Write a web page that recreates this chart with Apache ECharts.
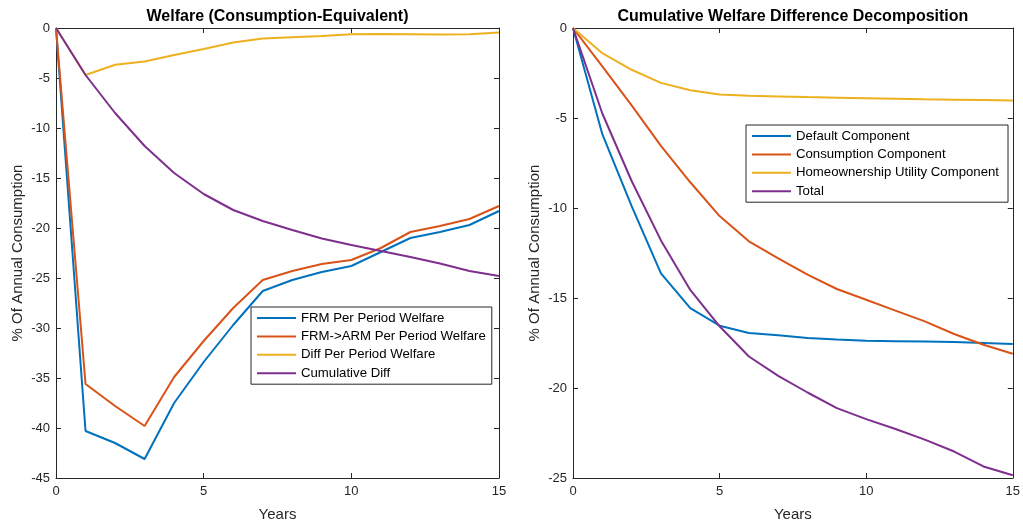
<!DOCTYPE html>
<html><head><meta charset="utf-8">
<script src="https://cdn.jsdelivr.net/npm/echarts@6/dist/echarts.min.js"></script>
<style>html,body{margin:0;padding:0;background:#fff}#c{width:1023px;height:527px}</style>
</head><body><div id="c"></div>
<script>
const years = [0,1,2,3,4,5,6,7,8,9,10,11,12,13,14,15];
const xTicks = [0,5,10,15];
// Left panel
const frmWelfare = [0,-40.3,-41.5,-43.1,-37.5,-33.4,-29.7,-26.3,-25.2,-24.4,-23.8,-22.4,-21.0,-20.4,-19.7,-18.3];
const frmArmWelfare = [0,-35.6,-37.8,-39.8,-34.9,-31.3,-28.0,-25.2,-24.3,-23.6,-23.2,-22.0,-20.4,-19.8,-19.1,-17.8];
const diffWelfare = [0,-4.7,-3.67,-3.35,-2.7,-2.1,-1.46,-1.05,-0.93,-0.8,-0.63,-0.6,-0.62,-0.66,-0.63,-0.46];
const cumulativeDiff = [0,-4.7,-8.5,-11.8,-14.5,-16.6,-18.2,-19.3,-20.2,-21.05,-21.7,-22.3,-22.9,-23.55,-24.3,-24.8];
// Right panel
const defaultComp = [0,-5.9,-9.9,-13.63,-15.56,-16.54,-16.94,-17.07,-17.22,-17.31,-17.38,-17.4,-17.42,-17.45,-17.5,-17.55];
const consumptionComp = [0,-2.13,-4.3,-6.55,-8.57,-10.45,-11.85,-12.8,-13.7,-14.5,-15.1,-15.7,-16.3,-17.0,-17.6,-18.1];
const homeownershipComp = [0,-1.4,-2.32,-3.05,-3.46,-3.7,-3.77,-3.8,-3.84,-3.87,-3.9,-3.93,-3.96,-3.98,-4.0,-4.03];
const totalComp = [0,-4.75,-8.5,-11.8,-14.55,-16.57,-18.25,-19.33,-20.25,-21.12,-21.73,-22.28,-22.87,-23.53,-24.36,-24.85];

const leftNames = ['FRM Per Period Welfare','FRM->ARM Per Period Welfare','Diff Per Period Welfare','Cumulative Diff'];
const rightNames = ['Default Component','Consumption Component','Homeownership Utility Component','Total'];
const colors = ['#0072BD','#D95319','#EDB120','#7E2F8E'];

const FONT = '"Liberation Sans", Arial, Helvetica, sans-serif';
const AX = '#262626';

function pairs(v){ return years.map((y,i)=>[y,v[i]]); }

function xAxes(gridIndex, title){
  return [
    {gridIndex, type:'value', min:0, max:15, interval:5, position:'bottom',
     axisLine:{onZero:false, lineStyle:{color:AX, width:1}},
     axisTick:{inside:true, length:5, lineStyle:{color:AX}},
     axisLabel:{color:AX, fontSize:13, fontFamily:FONT, margin:7},
     splitLine:{show:false},
     name:'Years', nameLocation:'middle', nameGap:29,
     nameTextStyle:{color:AX, fontSize:15, fontFamily:FONT}},
    {gridIndex, type:'value', min:0, max:15, interval:5, position:'top',
     axisLine:{onZero:false, lineStyle:{color:AX, width:1}},
     axisTick:{inside:true, length:5, lineStyle:{color:AX}},
     axisLabel:{show:false}, splitLine:{show:false},
     name:title, nameLocation:'middle', nameGap:3,
     nameTextStyle:{color:'#000', fontSize:16, fontWeight:'bold', fontFamily:FONT}}
  ];
}
function yAxes(gridIndex, min){
  return [
    {gridIndex, type:'value', min:min, max:0, interval:5, position:'left',
     axisLine:{onZero:false, lineStyle:{color:AX, width:1}},
     axisTick:{inside:true, length:5, lineStyle:{color:AX}},
     axisLabel:{color:AX, fontSize:13, fontFamily:FONT, margin:6},
     splitLine:{show:false},
     name:'% Of Annual Consumption', nameLocation:'middle', nameGap:31,
     nameTextStyle:{color:AX, fontSize:15, fontFamily:FONT}},
    {gridIndex, type:'value', min:min, max:0, interval:5, position:'right',
     axisLine:{onZero:false, lineStyle:{color:AX, width:1}},
     axisTick:{inside:true, length:5, lineStyle:{color:AX}},
     axisLabel:{show:false}, splitLine:{show:false}}
  ];
}

const leftData = [frmWelfare, frmArmWelfare, diffWelfare, cumulativeDiff];
const rightData = [defaultComp, consumptionComp, homeownershipComp, totalComp];

const series = [];
leftData.forEach((d,i)=>series.push({name:leftNames[i], type:'line', xAxisIndex:0, yAxisIndex:0,
  data:pairs(d), symbol:'none', lineStyle:{width:2, color:colors[i]}, itemStyle:{color:colors[i]}, z:10+i, animation:false}));
rightData.forEach((d,i)=>series.push({name:rightNames[i], type:'line', xAxisIndex:2, yAxisIndex:2,
  data:pairs(d), symbol:'none', lineStyle:{width:2, color:colors[i]}, itemStyle:{color:colors[i]}, z:10+i, animation:false}));

function legend(names, left, top, padding){
  return {data:names, orient:'vertical', left, top, padding,
    backgroundColor:'#fff', borderColor:AX, borderWidth:1,
    icon:'rect', itemWidth:39, itemHeight:2, itemGap:4.4,
    textStyle:{color:'#000', fontSize:13.2, fontFamily:FONT, lineHeight:14},
    selectedMode:false, z:20};
}

const chart = echarts.init(document.getElementById('c'), null, {renderer:'canvas'});
chart.setOption({
  animation:false,
  backgroundColor:'#fff',
  grid:[{left:56, right:524, top:28, bottom:46, containLabel:false},
        {left:573, right:8, top:28, bottom:46, containLabel:false}],
  xAxis:[...xAxes(0,'Welfare (Consumption-Equivalent)'), ...xAxes(1,'Cumulative Welfare Difference Decomposition')],
  yAxis:[...yAxes(0,-45), ...yAxes(1,-25)],
  legend:[legend(leftNames, 251, 307, [4,6,4,6]), legend(rightNames, 746, 125, [4,9,4,6])],
  series
});
</script></body></html>
